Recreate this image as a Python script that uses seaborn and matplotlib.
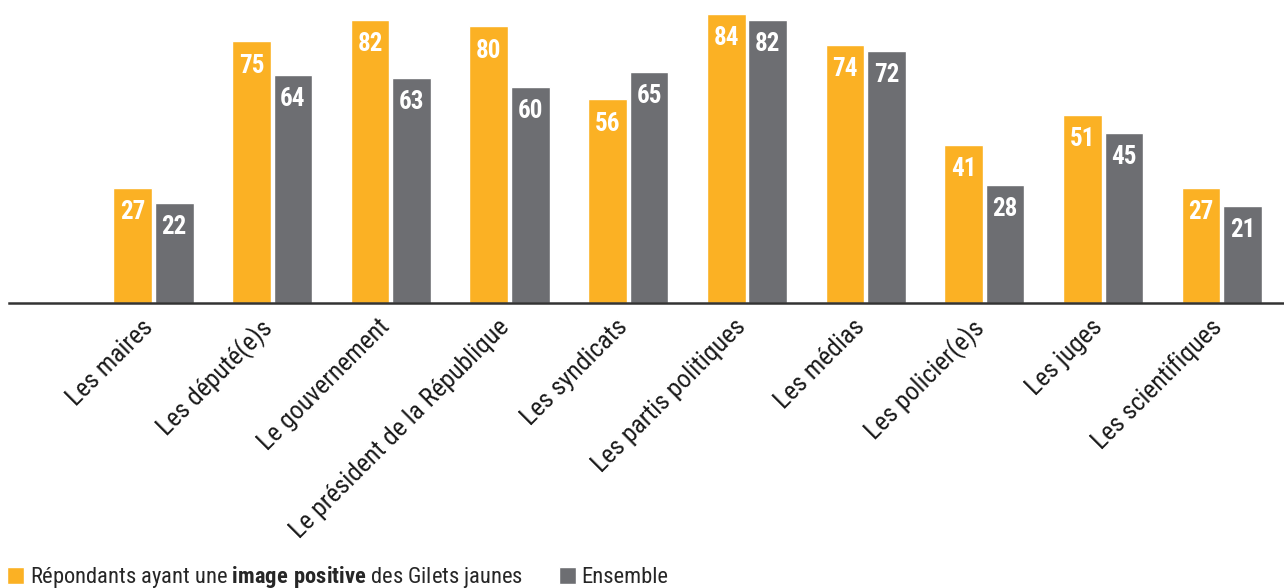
import matplotlib
matplotlib.use("Agg")
import matplotlib.pyplot as plt
import matplotlib.transforms as mtransforms
from matplotlib import font_manager
import seaborn as sns
import pandas as pd

categories = ["Les maires", "Les député(e)s", "Le gouvernement",
              "Le président de la République", "Les syndicats",
              "Les partis politiques", "Les médias", "Les policier(e)s",
              "Les juges", "Les scientifiques"]
gj_values = [27, 75, 82, 80, 56, 84, 74, 41, 51, 27]
all_values = [22, 64, 63, 60, 65, 82, 72, 28, 45, 21]

sns.set_theme(style="white")

# look for a condensed sans-serif face
entries = font_manager.fontManager.ttflist
cond = [f for f in entries
        if (str(f.stretch) in ("condensed", "semi-condensed", "extra-condensed")
            or "Condensed" in f.name or "Narrow" in f.name)]
FONT, STRETCH = "Liberation Sans", "normal"
for pref in ["Liberation Sans Narrow", "Roboto Condensed", "Open Sans Condensed",
             "DejaVu Sans Condensed", "DejaVu Sans", "Noto Sans", "Roboto", "Open Sans"]:
    hits = [f for f in cond if f.name == pref]
    if hits:
        FONT, STRETCH = pref, str(hits[0].stretch)
        break
CONDENSED = FONT != "Liberation Sans"
plt.rcParams["font.family"] = [FONT, "DejaVu Sans"]
plt.rcParams["font.stretch"] = STRETCH
plt.rcParams["mathtext.fontset"] = "custom"
plt.rcParams["mathtext.rm"] = FONT
plt.rcParams["mathtext.bf"] = FONT + ":bold"

YELLOW = "#FBB124"
GRAY = "#6D6E72"
label_gj = r"Répondants ayant une $\mathbf{image\ positive}$ des Gilets jaunes"
label_all = "Ensemble"

df = pd.DataFrame({
    "cat": categories * 2,
    "serie": [label_gj] * len(categories) + [label_all] * len(categories),
    "val": gj_values + all_values,
})

fig = plt.figure(figsize=(12.84, 5.88), dpi=100)
ax = fig.add_axes([9 / 1284, 285 / 588, 1 - 9 / 1284, 303 / 588])

sns.barplot(data=df, x="cat", y="val", hue="serie", order=categories,
            hue_order=[label_gj, label_all], palette=[YELLOW, GRAY],
            width=0.7, gap=0.07, ax=ax, errorbar=None, saturation=1)

BASE = -10.8
ax.set_ylim(BASE, 88.6)
ax.set_xlim(-1.217, 9.524)

num_size = 18 if CONDENSED else 16.5
lab_size = 18.5 if CONDENSED else 15.5
leg_size = 16.2 if CONDENSED else 14

# bars extend down to the baseline of the axis
for container in ax.containers:
    for bar in container:
        h = bar.get_height()
        bar.set_y(BASE)
        bar.set_height(h - BASE)
        ax.annotate(f"{h:.0f}", (bar.get_x() + bar.get_width() / 2, h),
                    xytext=(0, -17.5), textcoords="offset points",
                    ha="center", va="center", color="white",
                    fontsize=num_size, fontweight="bold")

ax.set_xlabel("")
ax.set_ylabel("")
ax.set_yticks([])
for s in ["top", "left", "right"]:
    ax.spines[s].set_visible(False)
ax.spines["bottom"].set_color("#333333")
ax.spines["bottom"].set_linewidth(1.8)
ax.tick_params(axis="x", length=0, pad=10)
ax.set_xticks(range(len(categories)))
ax.set_xticklabels(categories, rotation=45, ha="right", va="top",
                   rotation_mode="anchor", fontsize=lab_size, color="#1a1a1a")
shift = mtransforms.ScaledTranslation(-13 / 100, 2 / 100, fig.dpi_scale_trans)
for lab in ax.get_xticklabels():
    lab.set_transform(lab.get_transform() + shift)

sns.move_legend(ax, "lower left", bbox_to_anchor=(0.0055, -0.004),
                bbox_transform=fig.transFigure, ncol=2, frameon=False,
                title=None, fontsize=leg_size, handlelength=0.75, handleheight=0.75,
                handletextpad=0.25, columnspacing=1.6, borderpad=0.0,
                borderaxespad=0)

fig.savefig("out.png", dpi=100)
